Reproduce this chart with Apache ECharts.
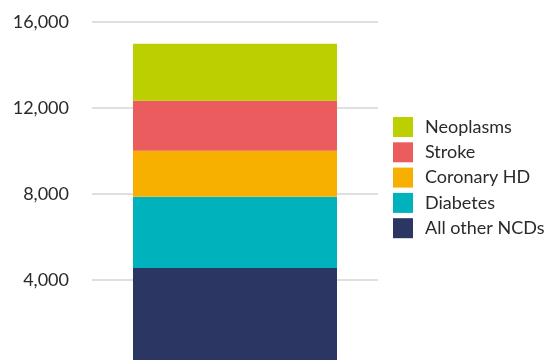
<!DOCTYPE html>
<html><head><meta charset="utf-8">
<script src="https://cdn.jsdelivr.net/npm/echarts@6/dist/echarts.min.js"></script>
<style>html,body{margin:0;padding:0;background:#fff;overflow:hidden}#c{width:552px;height:366px}</style>
</head><body><div id="c"></div>
<script>
var categories = ['Total'];
var seriesNames = ['All other NCDs', 'Diabetes', 'Coronary HD', 'Stroke', 'Neoplasms'];
var allOther = [4558];
var diabetes = [3302];
var coronary = [2140];
var stroke = [2326];
var neoplasms = [2651];
var yTicks = [0, 4000, 8000, 12000, 16000];
var colors = ['#2b3663', '#00b2bc', '#f7b000', '#eb5c5e', '#bccf00'];
var values = [allOther, diabetes, coronary, stroke, neoplasms];

var chart = echarts.init(document.getElementById('c'), null, {renderer: 'canvas'});
var series = seriesNames.map(function (n, i) {
  return {name: n, type: 'bar', stack: 'all', data: values[i], barWidth: 204,
    itemStyle: {color: colors[i]}, emphasis: {disabled: true}};
});
chart.setOption({
  animation: false,
  grid: {left: 92, width: 286, top: 21.7, bottom: 0, containLabel: false},
  xAxis: {type: 'category', data: categories, axisLine: {show: false}, axisTick: {show: false}, axisLabel: {show: false}},
  yAxis: {type: 'value', min: yTicks[0], max: yTicks[yTicks.length - 1], interval: 4000,
    axisLine: {show: false}, axisTick: {show: false},
    splitLine: {lineStyle: {color: '#d4d4d4', width: 1.5}},
    axisLabel: {margin: 23, color: '#2a2a2a', fontFamily: 'Lato', fontSize: 18,
      formatter: function (v) { return v === 0 ? '' : v.toLocaleString('en-US'); }}},
  legend: {orient: 'vertical', left: 388, top: 112, itemWidth: 20, itemHeight: 20, itemGap: 5.3,
    icon: 'rect', selectedMode: false,
    data: ['Neoplasms', 'Stroke', 'Coronary HD', 'Diabetes', 'All other NCDs'],
    textStyle: {color: '#2a2a2a', fontFamily: 'Lato', fontSize: 18, padding: [0, 0, 0, 7]}},
  series: series
});
</script></body></html>
